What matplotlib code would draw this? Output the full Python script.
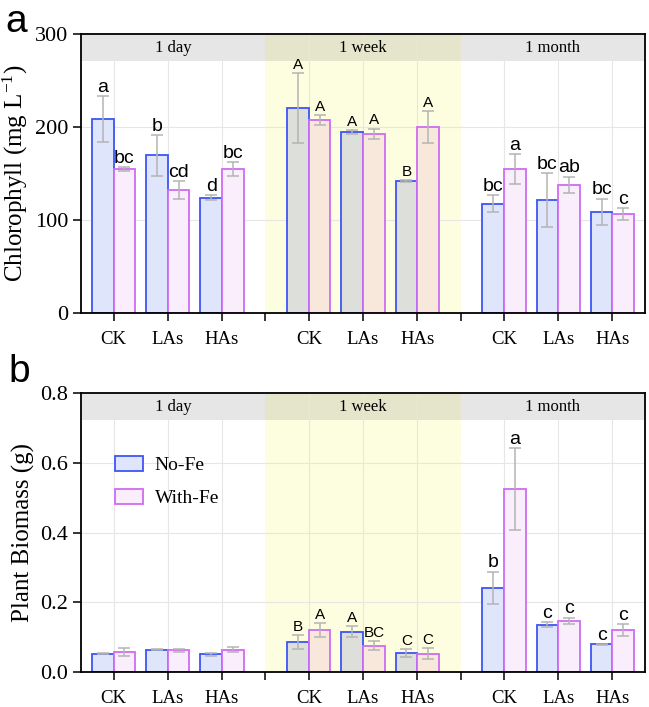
import numpy as np
import matplotlib
matplotlib.use("Agg")
import matplotlib.pyplot as plt
from matplotlib.patches import Patch

# ---- data ----
periods = ["1 day", "1 week", "1 month"]
treatments = ["CK", "LAs", "HAs"]

chl_nofe = [208.6, 169.5, 124.0, 220.8, 194.6, 142.3, 117.6, 121.1, 109.0]
chl_nofe_err = [25.0, 22.0, 3.0, 37.6, 2.3, 1.0, 9.3, 29.0, 14.0]
chl_fe = [154.8, 132.6, 154.8, 207.5, 192.8, 200.0, 155.2, 137.6, 106.5]
chl_fe_err = [2.0, 9.5, 7.5, 5.6, 5.5, 17.0, 16.0, 9.0, 6.6]
chl_nofe_lab = ["a", "b", "d", "A", "A", "B", "bc", "bc", "bc"]
chl_fe_lab = ["bc", "cd", "bc", "A", "A", "A", "a", "ab", "c"]

bio_nofe = [0.053, 0.064, 0.051, 0.086, 0.116, 0.055, 0.241, 0.136, 0.079]
bio_nofe_err = [0.002, 0.002, 0.004, 0.019, 0.015, 0.011, 0.047, 0.007, 0.002]
bio_fe = [0.057, 0.062, 0.064, 0.120, 0.076, 0.053, 0.524, 0.147, 0.120]
bio_fe_err = [0.012, 0.004, 0.008, 0.020, 0.0125, 0.015, 0.118, 0.009, 0.018]
bio_nofe_lab = ["", "", "", "B", "A", "C", "b", "c", "c"]
bio_fe_lab = ["", "", "", "A", "BC", "C", "a", "c", "c"]

# ---- style ----
SERIF = "Liberation Serif"
SANS = "Liberation Sans"
plt.rcParams["font.family"] = SERIF
plt.rcParams["mathtext.fontset"] = "custom"
plt.rcParams["mathtext.rm"] = SERIF
plt.rcParams["mathtext.it"] = SERIF + ":italic"
plt.rcParams["mathtext.sf"] = SANS

NOFE_EDGE = "#3d55f5"
FE_EDGE = "#cf6cf2"
NOFE_FACE = ["#dfe5fa", "#dde0da", "#dfe5fa"]
FE_FACE = ["#fbeefc", "#f8e8dc", "#fbeefc"]
YELLOW = "#fdfde0"
HEADER = ["#e6e6e6", "#e5e5cb", "#e6e6e6"]
ERR = "#b4b4b4"

GAP = 3.6
WIDTH = 0.4
XLIM = (-0.6, 9.8)


def draw_panel(ax, nofe, nofe_err, fe, fe_err, nofe_lab, fe_lab, ymax, ystep, ylabel, fmt):
    centers = []
    for p in range(len(periods)):
        for t in range(len(treatments)):
            centers.append(p * GAP + t)
    centers = np.array(centers)
    seps = [p * GAP - 0.8 for p in range(1, len(periods))]
    bounds = [XLIM[0]] + seps + [XLIM[1]]
    band = ymax * 0.097

    # background: 1 week shading and strip headers
    ax.axvspan(seps[0], seps[1], color=YELLOW, zorder=0.1, lw=0)
    for p, name in enumerate(periods):
        ax.fill_between([bounds[p], bounds[p + 1]], ymax - band, ymax,
                        color=HEADER[p], lw=0, zorder=0.2)
        ax.text((bounds[p] + bounds[p + 1]) / 2, ymax - band / 2, name,
                ha="center", va="center", fontsize=12, zorder=3)

    for p in range(len(periods)):
        idx = slice(p * 3, p * 3 + 3)
        ax.bar(centers[idx] - WIDTH / 2, nofe[idx], WIDTH, facecolor=NOFE_FACE[p],
               edgecolor=NOFE_EDGE, lw=1.3, zorder=2)
        ax.bar(centers[idx] + WIDTH / 2, fe[idx], WIDTH, facecolor=FE_FACE[p],
               edgecolor=FE_EDGE, lw=1.3, zorder=2)
    ax.errorbar(centers - WIDTH / 2, nofe, yerr=nofe_err, fmt="none", ecolor=ERR,
                elinewidth=1.1, capsize=4.5, capthick=1.1, zorder=3)
    ax.errorbar(centers + WIDTH / 2, fe, yerr=fe_err, fmt="none", ecolor=ERR,
                elinewidth=1.1, capsize=4.5, capthick=1.1, zorder=3)

    for xs, vals, errs, labs in [(centers - WIDTH / 2, nofe, nofe_err, nofe_lab),
                                 (centers + WIDTH / 2, fe, fe_err, fe_lab)]:
        for x, v, e, lab in zip(xs, vals, errs, labs):
            if not lab:
                continue
            fs = 11 if lab.isupper() else 14
            ax.annotate(lab, (x, v + e), xytext=(0, 3), textcoords="offset points",
                        ha="center", va="baseline", fontsize=fs, family=SANS, zorder=4)

    ax.set_xlim(*XLIM)
    ax.set_ylim(0, ymax)
    ax.set_xticks(centers)
    ax.set_xticklabels(treatments * len(periods), fontsize=13.5)
    ax.set_xticks(seps, minor=True)
    ax.set_yticks(np.arange(0, ymax + ystep / 2, ystep))
    ax.yaxis.set_major_formatter(plt.FormatStrFormatter(fmt))
    ax.tick_params(axis="both", which="both", direction="out", length=6, width=1.1)
    ax.tick_params(axis="x", which="both", pad=7)
    ax.tick_params(axis="y", labelsize=16, pad=3)
    ax.set_ylabel(ylabel, fontsize=18, labelpad=4)
    ax.grid(True, which="major", color="#e6e6e6", lw=0.8)
    ax.set_axisbelow(True)
    for s in ax.spines.values():
        s.set_linewidth(1.3)
        s.set_zorder(5)


fig = plt.figure(figsize=(6.49, 7.07), dpi=100)
ax1 = fig.add_axes([0.1248, 0.5573, 0.869, 0.3946])
ax2 = fig.add_axes([0.1248, 0.0495, 0.869, 0.3946])

draw_panel(ax1, chl_nofe, chl_nofe_err, chl_fe, chl_fe_err, chl_nofe_lab, chl_fe_lab,
           300, 100, "Chlorophyll (mg L$^{-1}$)", "%d")
draw_panel(ax2, bio_nofe, bio_nofe_err, bio_fe, bio_fe_err, bio_nofe_lab, bio_fe_lab,
           0.8, 0.2, "Plant Biomass (g)", "%.1f")

handles = [Patch(facecolor=NOFE_FACE[0], edgecolor=NOFE_EDGE, lw=1.3, label="No-Fe"),
           Patch(facecolor=FE_FACE[0], edgecolor=FE_EDGE, lw=1.3, label="With-Fe")]
ax2.legend(handles=handles, loc="upper left", bbox_to_anchor=(0.06, 0.775), frameon=False,
           fontsize=14, handlelength=1.45, handleheight=0.85, handletextpad=0.6,
           labelspacing=0.75, borderpad=0, borderaxespad=0)

# panel letters (mathtext gives a tight box round the glyph)
fig.text(0.008, 0.995, r"$\mathsf{a}$", fontsize=28, va="top")
fig.text(0.012, 0.460, r"$\mathsf{b}$", fontsize=28, va="baseline")

fig.savefig("out.png", dpi=100)
